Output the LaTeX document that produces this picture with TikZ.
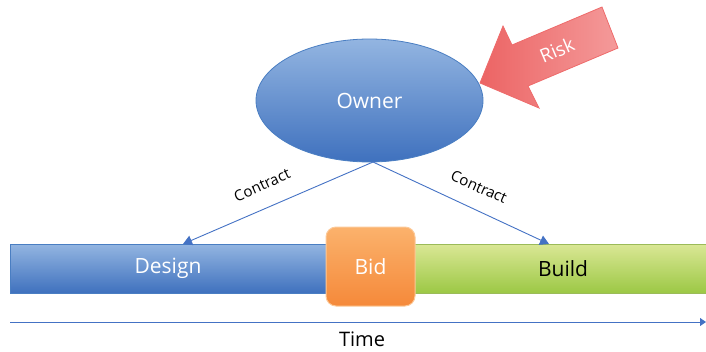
\documentclass[tikz,border=0pt]{standalone}
\usepackage{fontspec}
\setmainfont{Open Sans}
\usetikzlibrary{arrows.meta,shapes.geometric}
\definecolor{bluetop}{HTML}{93B5E1}
\definecolor{bluebot}{HTML}{3F71BE}
\definecolor{blueline}{HTML}{4A7EC2}
\definecolor{orangetop}{HTML}{FBB26C}
\definecolor{orangebot}{HTML}{F5893A}
\definecolor{greentop}{HTML}{DAE795}
\definecolor{greenbot}{HTML}{9CC845}
\definecolor{greenline}{HTML}{9BBB59}
\definecolor{riskdark}{HTML}{EC6464}
\definecolor{risklight}{HTML}{F49A9A}
\definecolor{riskline}{HTML}{EE6B6B}
\definecolor{axisblue}{HTML}{4472C4}
\tikzset{
  lbl/.style={font=\fontsize{21}{24}\selectfont},
  clbl/.style={font=\fontsize{15}{18}\selectfont, inner sep=0pt},
  contractarrow/.style={draw=axisblue, line width=0.9pt, -{Triangle[length=9pt,width=10pt]}},
}
\begin{document}
\begin{tikzpicture}[x=1pt,y=-1pt]
\useasboundingbox (0,0) rectangle (706,351);
% Design bar
\shade[top color=bluetop, bottom color=bluebot, draw=blueline, line width=0.6pt] (10,244) rectangle (332,293);
\node[lbl, text=white] (design) at (168,268.5) {Design};
% Build bar
\shade[top color=greentop, bottom color=greenbot, draw=greenline, line width=0.6pt] (410,244) rectangle (707,293);
\node[lbl, text=black] (build) at (563,268.5) {Build};
% Bid box
\shade[top color=orangetop, bottom color=orangebot, draw=orangetop!70!white, line width=1pt, rounded corners=10pt] (326,227) rectangle (415,306);
\node[lbl, text=white] (bid) at (370.5,266.5) {Bid};
% Owner ellipse
\shade[top color=bluetop, bottom color=bluebot, draw=blueline, line width=0.8pt] (369.5,100.5) ellipse [x radius=113.5, y radius=61.5];
\node[lbl, text=white] (owner) at (369.5,100.5) {Owner};
\coordinate (ownerbot) at (373,162);
\coordinate (designtop) at (183,244);
\coordinate (buildtop) at (549,244);
\draw[contractarrow] (ownerbot) -- (designtop);
\draw[contractarrow] (ownerbot) -- (buildtop);
\node[clbl, rotate=24] (c1) at (262,185) {Contract};
\node[clbl, rotate=-24] (c2) at (479,187) {Contract};
% Risk arrow
\shade[left color=riskdark, right color=risklight, draw=riskline, line width=0.8pt, line join=miter]
  (480,83) -- (503,26) -- (512,45) -- (602,7) -- (618,48) -- (528,86) -- (539,108) -- cycle;
\node[text=white, font=\fontsize{19}{22}\selectfont, rotate=23] (risk) at (557,50) {Risk};
% Time axis
\coordinate (t0) at (10,322);
\coordinate (t1) at (706,322);
\draw[draw=axisblue, line width=1pt, -{Triangle[length=6pt,width=8pt]}] (t0) -- (t1);
\node[font=\fontsize{20}{24}\selectfont, text=black] (time) at (362,339) {Time};
\end{tikzpicture}
\end{document}
